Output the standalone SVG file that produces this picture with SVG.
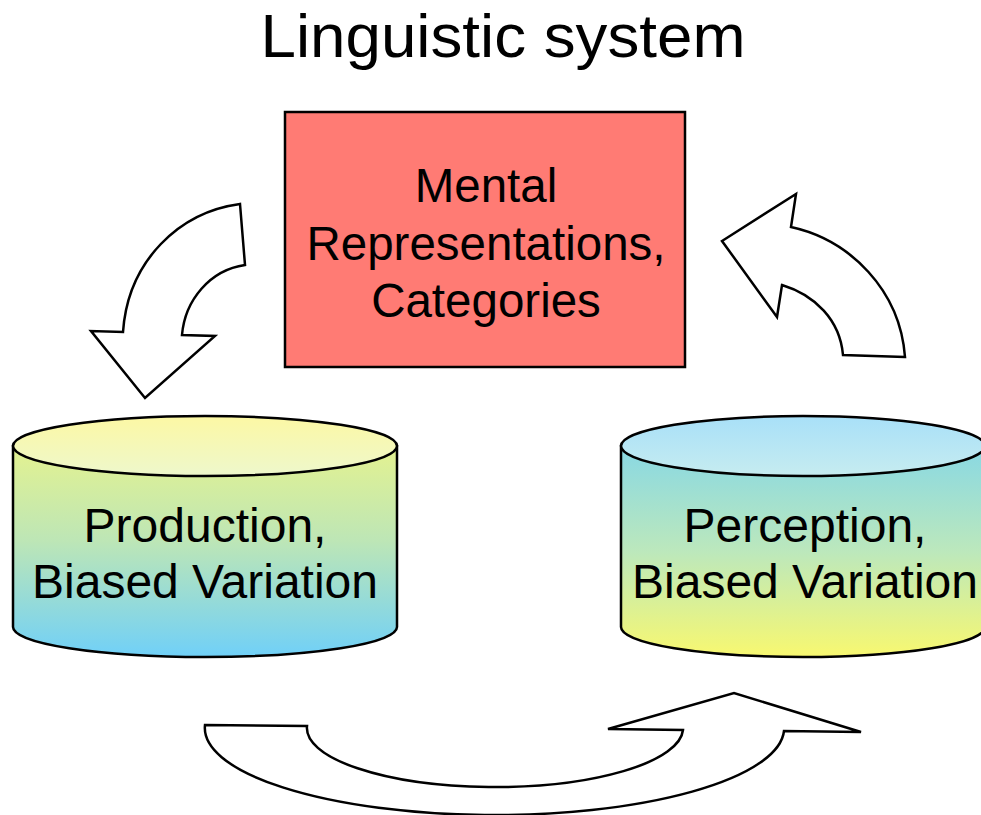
<svg xmlns="http://www.w3.org/2000/svg" width="981" height="815" viewBox="0 0 981 815">
  <defs>
    <linearGradient id="gBodyL" x1="0" y1="446" x2="0" y2="657" gradientUnits="userSpaceOnUse">
      <stop offset="0" stop-color="#e4f290"/>
      <stop offset="0.45" stop-color="#bde6b6"/>
      <stop offset="1" stop-color="#70d0f8"/>
    </linearGradient>
    <linearGradient id="gTopL" x1="0" y1="416" x2="0" y2="476" gradientUnits="userSpaceOnUse">
      <stop offset="0" stop-color="#fcf8a4"/>
      <stop offset="1" stop-color="#eef8cc"/>
    </linearGradient>
    <linearGradient id="gBodyR" x1="0" y1="446" x2="0" y2="657" gradientUnits="userSpaceOnUse">
      <stop offset="0" stop-color="#88d8e4"/>
      <stop offset="0.5" stop-color="#bce8bc"/>
      <stop offset="1" stop-color="#f8f870"/>
    </linearGradient>
    <linearGradient id="gTopR" x1="0" y1="416" x2="0" y2="476" gradientUnits="userSpaceOnUse">
      <stop offset="0" stop-color="#a8e0f8"/>
      <stop offset="1" stop-color="#c6ecf0"/>
    </linearGradient>
  </defs>
  <style>
    .lbl { font-family: "Liberation Sans", Arial, sans-serif; font-size: 47.5px; fill: #000; text-anchor: middle; }
    .clbl { font-family: "Liberation Sans", Arial, sans-serif; font-size: 48px; fill: #000; text-anchor: middle; }
    .title { font-family: "Liberation Sans", Arial, sans-serif; font-size: 61px; fill: #000; text-anchor: middle; }
    .edge { fill: #ffffff; stroke: #000; stroke-width: 2.5; stroke-linejoin: miter; }
    .shape { stroke: #000; stroke-width: 2.5; }
  </style>
  <rect width="981" height="815" fill="#ffffff"/>

  <text class="title" x="503" y="57" textLength="485" lengthAdjust="spacingAndGlyphs">Linguistic system</text>

  <g id="mental">
    <rect class="shape" x="285" y="112" width="400" height="255" fill="#ff7b74"/>
    <text class="lbl" x="486" y="202">Mental</text>
    <text class="lbl" x="486" y="260">Representations,</text>
    <text class="lbl" x="486" y="317">Categories</text>
  </g>

  <g id="production">
    <path class="shape" d="M13,446 L13,627 A192 30 0 0 0 397,627 L397,446 Z" fill="url(#gBodyL)"/>
    <ellipse class="shape" cx="205" cy="446" rx="192" ry="30" fill="url(#gTopL)"/>
    <text class="clbl" x="205" y="542">Production,</text>
    <text class="clbl" x="205" y="598">Biased Variation</text>
  </g>

  <g id="perception">
    <path class="shape" d="M621,446 L621,627 A182 30 0 0 0 985,627 L985,446 Z" fill="url(#gBodyR)"/>
    <ellipse class="shape" cx="803" cy="446" rx="182" ry="30" fill="url(#gTopR)"/>
    <text class="clbl" x="805" y="542">Perception,</text>
    <text class="clbl" x="805" y="598">Biased Variation</text>
  </g>

  <g id="connectors">
    <path class="edge" d="M240,204 L245,265 C210,270 185,300 182,335 L215,336 L145,398 L91,331 L123,332 C128,260 180,212 240,204 Z"/>
    <path class="edge" d="M905,357 L843,355 C840,320 815,295 782,285 L777,317 L722,241 L796,194 L791,227 C850,240 900,290 905,357 Z"/>
    <path class="edge" d="M205,725 L307,726 A188 59 0 0 0 683,730 L608,729 L734,693 L861,732 L784,731 A289.5 87 0 0 1 205,725 Z"/>
  </g>
</svg>
